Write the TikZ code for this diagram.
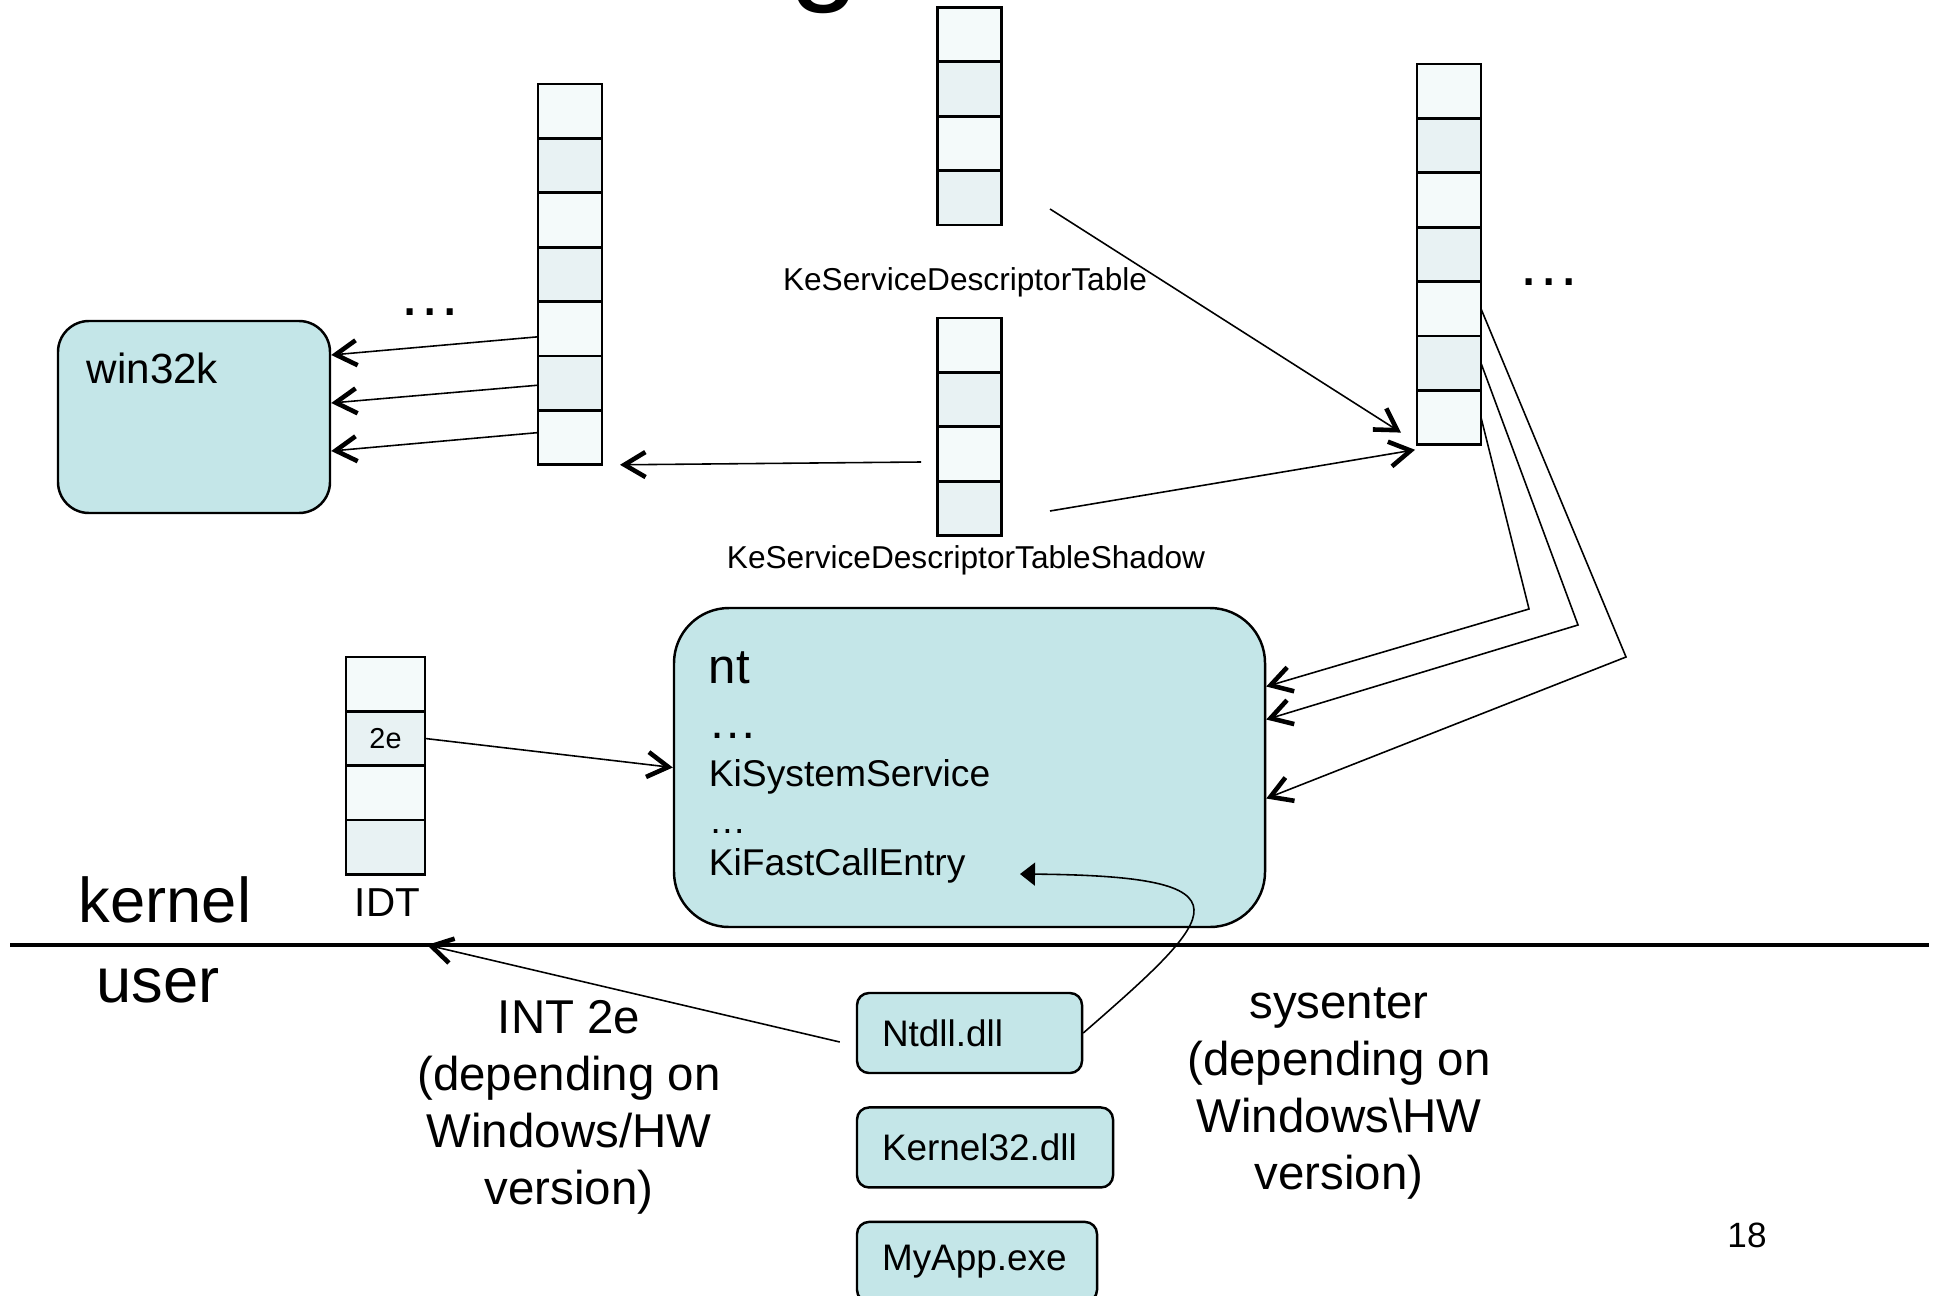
\documentclass[tikz,border=0pt]{standalone}
\usepackage{fontspec}
\setmainfont{Liberation Sans}
\usetikzlibrary{arrows.meta,calc,positioning}

\definecolor{modFill}{RGB}{196,230,232}
\definecolor{cellTone1}{RGB}{244,250,250}
\definecolor{cellTone0}{RGB}{232,242,243}

\tikzset{
     cellNode/.style =
        { draw
        , line width=0.75pt
        , minimum width=6.4mm
        , minimum height=5.44mm
        , inner sep=0pt
        , outer sep=0pt
        }
   , modNode/.style =
        { draw
        , line width=0.7pt
        , fill=modFill
        }
   , dllNode/.style =
        { modNode
        , rounded corners=1.2mm
        , minimum height=8mm
        , inner xsep=2.5mm
        , align=left
        , font=\fontsize{10.5}{12.6}\selectfont
        }
   , txtNode/.style = {inner sep=0pt}
}

\begin{document}
\begin{tikzpicture}
            [ x=0.1mm
            , y=-0.1mm
            , >={Straight Barb[length=2.1mm,width=2.5mm,line width=1.3pt]}
            , line width=0.45pt
            ]
            \useasboundingbox (0,0) rectangle (1939,1295);

            % cut-off title letter
            \node[txtNode, anchor=base, font=\fontsize{36}{40}\selectfont] (title) at (825,-12) {g};

            % descriptor tables
            \foreach \i [evaluate=\i as \c using int(\i-2*int(\i/2))] in {1,...,4}
            {
                \node[cellNode, fill=cellTone\c] (kst-\i) at (969.5,{7.4+54.4*(\i-0.5)}) {};
                \node[cellNode, fill=cellTone\c] (kss-\i) at (969.5,{318+54.4*(\i-0.5)}) {};
            }
            \foreach \i [evaluate=\i as \c using int(\i-2*int(\i/2))] in {1,...,7}
            {
                \node[cellNode, fill=cellTone\c] (w32tab-\i) at (570,{84+54.4*(\i-0.5)}) {};
                \node[cellNode, fill=cellTone\c] (kitab-\i) at (1449,{64+54.4*(\i-0.5)}) {};
            }
            \foreach \i/\t [evaluate=\i as \c using int(\i-2*int(\i/2))] in {1/,2/2e,3/,4/}
                \node[cellNode, minimum width=7.9mm, fill=cellTone\c, font=\fontsize{8.2}{10}\selectfont] (idt-\i) at (385.5,{657+54.3*(\i-0.5)}) {\t};

            \node[txtNode, font=\fontsize{9}{11}\selectfont] (kstName) at (965,282) {KeServiceDescriptorTable};
            \node[txtNode, font=\fontsize{9}{11}\selectfont] (kssName) at (966,560) {KeServiceDescriptorTableShadow};
            \node[txtNode, anchor=base, font=\fontsize{11.5}{14}\selectfont] (idtName) at (387.5,916) {IDT};
            \node[txtNode, anchor=base, font=\fontsize{18}{20}\selectfont] (w32dots) at (430,315) {…};
            \node[txtNode, anchor=base, font=\fontsize{18}{20}\selectfont] (kitdots) at (1549,285) {…};

            % modules
            \node[modNode, rounded corners=3.1mm, minimum width=27.2mm, minimum height=19.2mm] (win32k) at (194,417) {};
            \node[txtNode, anchor=base west, font=\fontsize{12}{14}\selectfont] (win32kName) at (86,383) {win32k};

            \node[modNode, rounded corners=5.5mm, minimum width=59.1mm, minimum height=31.9mm] (nt) at (969.5,767.5) {};
            \node[txtNode, anchor=base west, font=\fontsize{14}{16}\selectfont] (ntName) at (708,683) {nt};
            \node[txtNode, anchor=base west, font=\fontsize{14}{16}\selectfont] (ntDotsA) at (708,738) {…};
            \node[txtNode, anchor=base west, font=\fontsize{10.6}{12}\selectfont] (kiSys) at (708,786) {KiSystemService};
            \node[txtNode, anchor=base west, font=\fontsize{10.6}{12}\selectfont] (ntDotsB) at (708,833) {…};
            \node[txtNode, anchor=base west, font=\fontsize{10.6}{12}\selectfont] (kiFast) at (708,875) {KiFastCallEntry};

            % kernel / user split
            \coordinate (splitL) at (10,945);
            \coordinate (splitR) at (1929,945);
            \draw[line width=0.9pt] (splitL) -- (splitR);
            \node[txtNode, anchor=base west, font=\fontsize{18}{20}\selectfont] (kernelName) at (78,922) {kernel};
            \node[txtNode, anchor=base west, font=\fontsize{18}{20}\selectfont] (userName) at (96,1002) {user};

            \node[dllNode, text width=17.5mm] (ntdll) at (969.5,1033) {Ntdll.dll};
            \node[dllNode, text width=20.6mm, below=3.2mm of ntdll.south west, anchor=north west] (kernel32) {Kernel32.dll};
            \node[dllNode, text width=19mm, below=3.2mm of kernel32.south west, anchor=north west] (myapp) {MyApp.exe};

            \node[txtNode, anchor=north, align=center, font=\fontsize{13.5}{16.2}\selectfont] (intNote) at (569,1000) {INT 2e\\(depending on\\Windows/HW\\version)};
            \node[txtNode, anchor=north, align=center, font=\fontsize{13.5}{16.2}\selectfont] (sysNote) at (1339,987) {sysenter\\(depending on\\Windows\textbackslash HW\\version)};
            \node[txtNode, anchor=base, font=\fontsize{10}{12}\selectfont] (pageNo) at (1747,1247) {18};

            % pointers
            \coordinate (kstOut) at (1050,209);
            \coordinate (kssOut) at (1050,511);
            \coordinate (kssLeft) at (921,462);
            \draw[->] (kstOut) -- ($(kitab-7.west)+(-16,15)$);
            \draw[->] (kssOut) -- ($(kitab-7.south west)+(-2,5)$);
            \draw[->] (kssLeft) -- ($(w32tab-7.south east)+(18,0)$);

            \foreach \i/\sy/\dy in {5/8/-62,6/2/-14,7/-5/34}
                \draw[->] ($(w32tab-\i.west)+(0,\sy)$) -- ($(win32k.east)+(0,\dy)$);

            \coordinate (bendA) at (1626,657);
            \coordinate (bendB) at (1578,625);
            \coordinate (bendC) at (1529,609);
            \draw[->] (kitab-5.east) -- (bendA) -- ($(nt.east)+(0,31)$);
            \draw[->] (kitab-6.east) -- (bendB) -- ($(nt.east)+(0,-48)$);
            \draw[->] (kitab-7.east) -- (bendC) -- ($(nt.east)+(0,-81)$);

            \draw[->] (idt-2.east) -- (nt.west);

            \coordinate (intTip) at (427,945);
            \draw[->] ($(ntdll.west)+(-16,9)$) -- (intTip);

            \coordinate (fastTip) at (1020,874);
            \draw[-{Triangle[length=1.5mm,width=2.3mm]}] (ntdll.east) .. controls (1220,914) and (1258,876) .. (fastTip);
\end{tikzpicture}
\end{document}
